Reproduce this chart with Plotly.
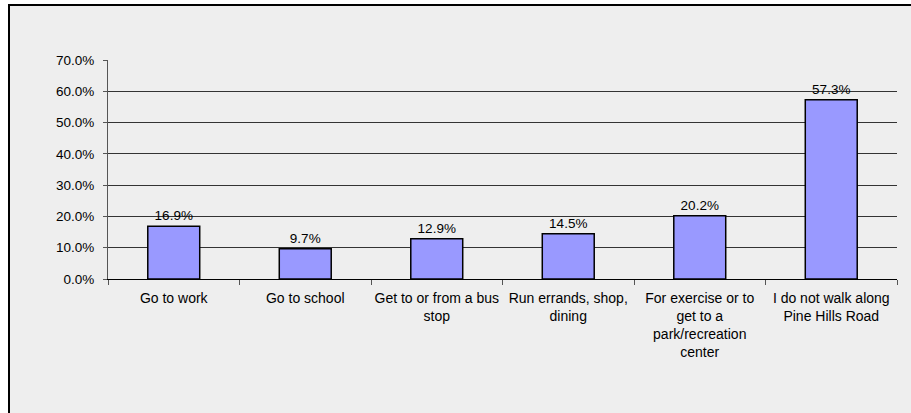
import plotly.graph_objects as go

categories = [
    "Go to work",
    "Go to school",
    "Get to or from a bus<br>stop",
    "Run errands, shop,<br>dining",
    "For exercise or to<br>get to a<br>park/recreation<br>center",
    "I do not walk along<br>Pine Hills Road",
]
values = [0.169, 0.097, 0.129, 0.145, 0.202, 0.573]
value_labels = ["16.9%", "9.7%", "12.9%", "14.5%", "20.2%", "57.3%"]
y_ticks = [0.0, 0.1, 0.2, 0.3, 0.4, 0.5, 0.6, 0.7]

L, R, T, B = 108, 14, 60, 134
W, H = 911, 413
pw, ph = W - L - R, H - T - B
FONT = "Liberation Sans, Arial"

fig = go.Figure(go.Bar(
    x=categories, y=values,
    text=value_labels, textposition="outside", cliponaxis=False,
    textfont=dict(family=FONT, size=13.5, color="#000"),
    marker=dict(color="#9999FF", line=dict(color="#000", width=1.5)),
    width=0.395,
))

fig.add_shape(
    type="rect", xref="paper", yref="paper", layer="below",
    x0=(9 - L) / pw, x1=(W + 5 - L) / pw,
    y0=(T + ph - (H + 5)) / ph, y1=(T + ph - 5) / ph,
    fillcolor="#EEEEEE", line=dict(color="#000", width=2),
)

fig.update_layout(
    width=W, height=H,
    margin=dict(l=L, r=R, t=T, b=B),
    paper_bgcolor="white", plot_bgcolor="rgba(0,0,0,0)",
    font=dict(family=FONT, size=13.5, color="#000"),
    showlegend=False,
)
fig.update_xaxes(
    showline=True, linecolor="#000", linewidth=1,
    ticks="outside", tickson="boundaries", ticklen=5, tickcolor="#555",
    ticklabelstandoff=6,
    showgrid=False, tickangle=0,
    tickfont=dict(family=FONT, size=14, color="#000"),
)
fig.update_yaxes(
    range=[0, 0.7], tickvals=y_ticks, tickformat=".1%",
    showline=True, linecolor="#555", linewidth=1,
    ticks="outside", ticklen=4, tickcolor="#555",
    ticklabelstandoff=6,
    showgrid=True, gridcolor="#333", gridwidth=1,
    zeroline=False,
    tickfont=dict(family=FONT, size=13.5, color="#000"),
)

fig.write_html(
    "out.html",
    config={"displayModeBar": False},
    post_script="document.body.style.margin='0';document.body.style.overflow='hidden';",
)
